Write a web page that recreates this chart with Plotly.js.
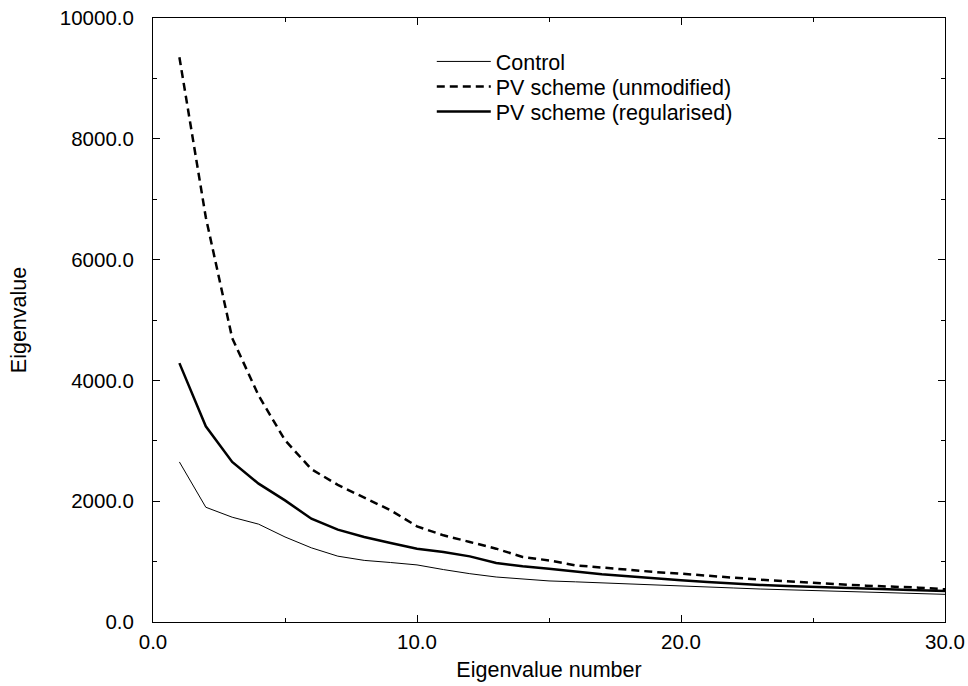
<!DOCTYPE html>
<html>
<head>
<meta charset="utf-8">
<script src="https://cdn.plot.ly/plotly-3.0.1.min.js"></script>
<style>html,body{margin:0;padding:0;background:#fff;}</style>
</head>
<body>
<div id="chart" style="width:968px;height:686px;"></div>
<script>
const eigenNumber = [1,2,3,4,5,6,7,8,9,10,11,12,13,14,15,16,17,18,19,20,21,22,23,24,25,26,27,28,29,30];
const controlValues = [2650,1900,1735,1620,1408,1228,1090,1020,985,945,868,800,745,712,680,665,650,635,615,600,580,563,546,535,519,508,497,482,470,458];
const pvUnmodifiedValues = [9350,6700,4700,3750,3010,2530,2270,2059,1849,1584,1435,1325,1214,1076,1020,938,900,867,828,800,773,734,701,673,646,624,602,591,569,541];
const pvRegularisedValues = [4286,3240,2650,2290,2013,1710,1530,1408,1308,1214,1159,1087,977,922,883,835,789,756,718,690,662,635,613,596,580,563,546,535,524,513];
const seriesNames = ["Control", "PV scheme (unmodified)", "PV scheme (regularised)"];
const xTitle = "Eigenvalue number";
const yTitle = "Eigenvalue";

const fam = "Liberation Sans, Arial, sans-serif";
const tickFont = {family: fam, size: 20.5, color: "#000"};
const textFont = {family: fam, size: 21.5, color: "#000"};

const traces = [
  {x: eigenNumber, y: controlValues, name: seriesNames[0], mode: "lines", legend: "legend",
   line: {color: "#000", width: 1}},
  {x: eigenNumber, y: pvUnmodifiedValues, name: seriesNames[1], mode: "lines", legend: "legend2",
   line: {color: "#000", width: 2.5, dash: "8px,5px"}},
  {x: eigenNumber, y: pvRegularisedValues, name: seriesNames[2], mode: "lines", legend: "legend3",
   line: {color: "#000", width: 2.5}}
];

const axisCommon = {
  showline: true, linecolor: "#000", linewidth: 1, mirror: "allticks",
  ticks: "inside", ticklen: 7, tickwidth: 1, tickcolor: "#000",
  showgrid: false, zeroline: false, tickformat: ".1f",
  tickfont: tickFont
};

function legendAt(y) {
  return {x: 0.352, y: y, xanchor: "left", yanchor: "top",
    bgcolor: "rgba(0,0,0,0)", font: textFont, itemwidth: 54, tracegroupgap: 0};
}

const layout = {
  width: 968, height: 686,
  margin: {l: 153, r: 23, t: 18, b: 64},
  paper_bgcolor: "#fff", plot_bgcolor: "#fff",
  font: textFont,
  showlegend: true,
  legend: legendAt(0.962),
  legend2: legendAt(0.9205),
  legend3: legendAt(0.879),
  xaxis: Object.assign({}, axisCommon, {
    range: [0, 30], dtick: 10, tick0: 0,
    minor: {dtick: 5, ticks: "inside", ticklen: 4, tickcolor: "#000", showgrid: false},
    ticklabelstandoff: 1,
    title: {text: xTitle, font: textFont, standoff: 10}
  }),
  yaxis: Object.assign({}, axisCommon, {
    range: [0, 10000], dtick: 2000, tick0: 0,
    minor: {dtick: 1000, ticks: "inside", ticklen: 4, tickcolor: "#000", showgrid: false},
    ticklabelstandoff: 14,
    title: {text: yTitle, font: textFont, standoff: 27}
  })
};

Plotly.newPlot("chart", traces, layout, {displayModeBar: false, staticPlot: true});
</script>
</body>
</html>
